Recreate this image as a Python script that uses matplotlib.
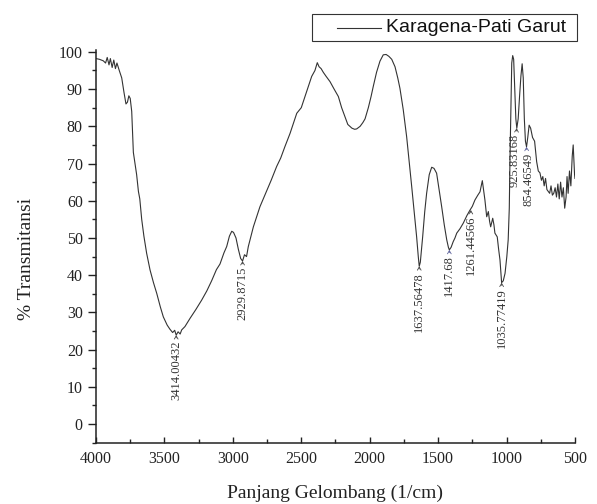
import matplotlib
matplotlib.use('Agg')
import matplotlib.pyplot as plt
from matplotlib.ticker import MultipleLocator
from matplotlib.patches import Rectangle
from matplotlib.lines import Line2D

# FTIR spectrum (wavenumber 1/cm, % transmittance)
wavenumber = [4000, 3975, 3947, 3930, 3918, 3905, 3895, 3882, 3870, 3858, 3847, 3830,
              3812, 3795, 3781, 3770, 3760, 3750, 3739, 3727, 3715, 3703, 3690, 3680,
              3666, 3650, 3630, 3605, 3580, 3556, 3530, 3508, 3480, 3460, 3440, 3425,
              3414, 3400, 3385, 3374, 3350, 3313, 3270, 3228, 3190, 3155, 3120, 3094,
              3065, 3045, 3025, 3008, 2995, 2977, 2960, 2943, 2929, 2915, 2900, 2887,
              2850, 2802, 2760, 2720, 2680, 2650, 2620, 2582, 2533, 2500, 2473, 2450,
              2424, 2400, 2383, 2370, 2355, 2339, 2320, 2290, 2260, 2229, 2205, 2181,
              2160, 2130, 2110, 2095, 2070, 2050, 2034, 2010, 1990, 1974, 1950, 1925,
              1901, 1880, 1860, 1839, 1815, 1795, 1779, 1755, 1730, 1710, 1693, 1675,
              1657, 1645, 1638, 1630, 1613, 1598, 1584, 1565, 1547, 1530, 1511, 1495,
              1474, 1455, 1437, 1425, 1418, 1405, 1390, 1377, 1364, 1340, 1316, 1290,
              1267, 1250, 1231, 1210, 1194, 1177, 1168, 1158, 1145, 1133, 1124, 1116,
              1101, 1092, 1085, 1068, 1058, 1048, 1036, 1024, 1011, 998, 988, 980,
              975, 968, 962, 955, 948, 940, 932, 925, 915, 905, 895, 886,
              878, 870, 862, 854, 845, 835, 824, 810, 795, 780, 768, 756,
              745, 735, 725, 715, 705, 695, 685, 675, 665, 655, 645, 635,
              625, 615, 605, 595, 585, 575, 565, 558, 550, 540, 530, 520,
              513, 507, 503, 500]
transmittance = [98.2, 98.0, 97.6, 97.0, 98.5, 96.5, 98.2, 95.8, 97.8, 95.5, 97.0, 95.0,
                 93.0, 89.0, 86.0, 86.5, 88.2, 87.5, 84.0, 73.0, 70.0, 67.0, 62.5, 60.5,
                 55.0, 50.5, 45.9, 41.4, 38.0, 35.1, 31.5, 28.8, 26.6, 25.5, 24.6, 25.2,
                 23.9, 24.8, 24.2, 25.3, 26.2, 28.4, 30.8, 33.3, 35.8, 38.5, 41.5, 43.0,
                 46.0, 47.7, 50.5, 51.8, 51.5, 50.0, 47.0, 44.5, 43.8, 45.5, 45.0, 47.7,
                 53.0, 58.4, 62.0, 65.5, 69.2, 71.5, 74.5, 78.1, 83.5, 85.0, 88.0, 90.5,
                 93.4, 95.0, 97.1, 96.0, 95.5, 94.5, 93.5, 92.0, 90.0, 88.0, 85.0, 82.6,
                 80.5, 79.5, 79.2, 79.3, 80.0, 81.0, 82.0, 85.0, 88.0, 90.7, 94.5, 97.5,
                 99.2, 99.3, 98.8, 98.0, 96.0, 93.0, 90.2, 84.5, 77.2, 70.0, 63.8, 57.0,
                 50.3, 45.0, 42.4, 43.5, 50.3, 57.0, 62.0, 67.0, 69.0, 68.7, 67.4, 63.5,
                 58.4, 53.5, 49.5, 47.5, 46.8, 47.5, 49.0, 50.0, 51.3, 52.5, 54.0, 56.0,
                 57.5, 58.5, 60.2, 61.5, 62.4, 65.4, 63.0, 60.2, 55.7, 57.1, 54.5, 53.0,
                 55.3, 53.5, 51.3, 50.3, 47.0, 44.1, 38.0, 38.5, 40.5, 45.0, 49.5, 58.0,
                 71.0, 85.0, 97.0, 99.0, 98.0, 90.0, 82.0, 79.5, 82.0, 88.0, 93.5, 96.8,
                 93.0, 82.0, 76.0, 74.5, 77.0, 80.3, 79.5, 77.0, 76.0, 70.5, 68.0, 67.5,
                 65.5, 66.5, 64.0, 66.0, 63.0, 62.5, 62.0, 64.0, 61.5, 62.0, 63.5, 61.0,
                 64.5, 60.5, 65.0, 61.0, 63.5, 58.0, 61.0, 66.5, 62.0, 68.0, 64.0, 72.0,
                 75.0, 70.0, 67.0, 66.0]

# labelled peaks
peak_labels = ['3414.00432', '2929.8715', '1637.56478', '1417.68', '1261.44566',
               '1035.77419', '925.83168', '854.46549']
peak_x = [3414, 2929, 1638, 1418, 1261, 1036, 925.8, 854.5]
peak_y = [23.9, 43.8, 42.4, 46.8, 57.5, 38.0, 79.5, 74.5]
peak_colors = ['#444444', '#444444', '#444444', '#5a5f9a', '#444444', '#444444',
               '#444444', '#5a5f9a']
peak_dx = [0, 0, 0, 0, 0, 0, -1.2, 1.2]

fig = plt.figure(figsize=(5.97, 5.04), dpi=100)
ax = fig.add_axes([0.1608, 0.1216, 0.8023, 0.7792])

ax.plot(wavenumber, transmittance, color='#333333', lw=0.8)

for lab, x, y, c, dx in zip(peak_labels, peak_x, peak_y, peak_colors, peak_dx):
    ax.annotate(lab, xy=(x, y), xytext=(dx, -4), textcoords='offset points',
                rotation=90, ha='center', va='top', fontsize=9,
                family='Liberation Serif', color='#333333',
                arrowprops=dict(arrowstyle='->,head_length=0.25,head_width=0.15',
                                color=c, lw=0.6, shrinkA=0, shrinkB=0))

ax.set_xlim(4000, 500)
ax.set_ylim(-5, 100.5)
ax.xaxis.set_major_locator(MultipleLocator(500))
ax.xaxis.set_minor_locator(MultipleLocator(250))
ax.yaxis.set_major_locator(MultipleLocator(10))
ax.yaxis.set_minor_locator(MultipleLocator(5))
ax.set_yticks(range(0, 101, 10))

for s in ['top', 'right']:
    ax.spines[s].set_visible(False)
for s in ['left', 'bottom']:
    ax.spines[s].set_linewidth(1.1)
    ax.spines[s].set_color('#222222')

ax.tick_params(axis='y', which='major', direction='out', length=6, width=1.0,
               labelsize=11.5, colors='#222222')
ax.tick_params(axis='y', which='minor', direction='out', length=3, width=1.0,
               colors='#222222')
ax.tick_params(axis='x', which='major', direction='in', length=4, width=1.0,
               labelsize=11.5, pad=6, colors='#222222')
ax.tick_params(axis='x', which='minor', direction='in', length=3, width=1.0,
               colors='#222222')
for t in ax.get_xticklabels() + ax.get_yticklabels():
    t.set_family('Liberation Serif')

ax.set_xlabel('Panjang Gelombang (1/cm)', family='Liberation Serif', fontsize=14,
              color='#222222')
ax.set_ylabel('% Transmitansi', family='Liberation Serif', fontsize=14,
              color='#222222')
ax.xaxis.set_label_coords(0.5, -0.106)
ax.yaxis.set_label_coords(-0.128, 0.468)

# legend box drawn in figure pixels to match the reference placement
W, H = 597.0, 504.0
fig.patches.append(Rectangle((312 / W, 1 - 41 / H), 265 / W, 27 / H,
                             transform=fig.transFigure, fill=False,
                             edgecolor='#333333', lw=0.8))
fig.lines.append(Line2D([337 / W, 381 / W], [1 - 27.5 / H, 1 - 27.5 / H],
                        transform=fig.transFigure, color='#333333', lw=0.8))
fig.text(386 / W, 1 - 27.5 / H, 'Karagena-Pati Garut', family='Liberation Sans',
         fontsize=14, va='center', ha='left', color='#111111')

fig.savefig('out.png', dpi=100)
